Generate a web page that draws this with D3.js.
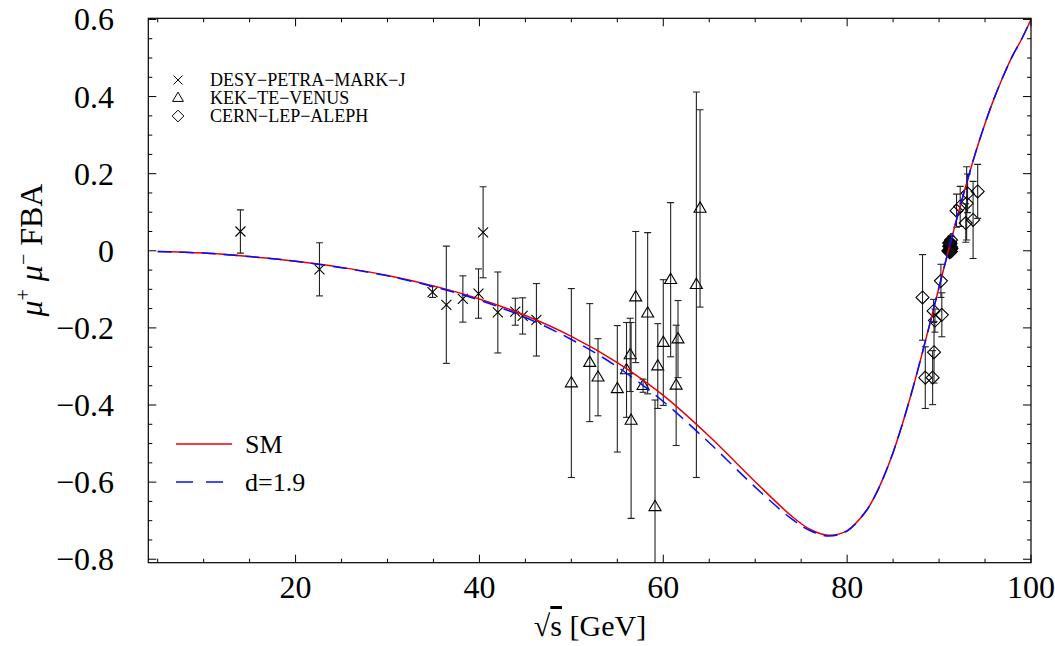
<!DOCTYPE html>
<html>
<head>
<meta charset="utf-8">
<script src="https://cdn.jsdelivr.net/npm/d3@7"></script>
<style>
  body { margin: 0; background: #fff; }
  svg { display: block; }
  text { font-family: "Liberation Serif", "Times New Roman", serif; fill: #000; }
</style>
</head>
<body>
<svg id="chart" width="1055" height="646"></svg>
<script>
// theory curves, sqrt(s) in GeV
var sqrtS = [5, 10, 15, 20, 25, 30, 35, 40, 45, 50, 55, 60, 65, 70, 74, 76, 78, 80, 82, 83, 84, 85, 86, 87, 88, 89, 90, 91, 92, 93, 94, 95, 96, 97, 98, 99, 100];
var smFBA = [-0.002, -0.006, -0.015, -0.027, -0.043, -0.064, -0.091, -0.125, -0.168, -0.222, -0.290, -0.375, -0.481, -0.599, -0.689, -0.723, -0.738, -0.726, -0.677, -0.637, -0.585, -0.523, -0.450, -0.369, -0.281, -0.189, -0.094, -0.001, 0.090, 0.176, 0.257, 0.330, 0.396, 0.454, 0.506, 0.550, 0.600];
var d19FBA = [-0.002, -0.006, -0.015, -0.027, -0.044, -0.065, -0.093, -0.128, -0.173, -0.230, -0.301, -0.391, -0.498, -0.613, -0.696, -0.726, -0.740, -0.727, -0.677, -0.637, -0.585, -0.523, -0.450, -0.369, -0.281, -0.189, -0.094, -0.001, 0.090, 0.176, 0.257, 0.330, 0.396, 0.454, 0.506, 0.550, 0.600];

// DESY-PETRA-MARK-J
var markjX = [14.0, 22.6, 34.9, 36.4, 38.2, 39.9, 40.4, 42.0, 43.9, 44.7, 46.2];
var markjY = [0.050, -0.048, -0.107, -0.140, -0.125, -0.111, 0.048, -0.160, -0.158, -0.169, -0.179];
var markjErr = [0.056, 0.069, 0.014, 0.152, 0.060, 0.064, 0.118, 0.105, 0.035, 0.047, 0.094];

// KEK-TE-VENUS
var venusX = [50.0, 52.0, 52.9, 55.0, 56.0, 56.4, 56.5, 57.0, 57.8, 58.3, 59.1, 59.4, 60.0, 60.8, 61.4, 61.6, 63.6, 64.0];
var venusY = [-0.343, -0.290, -0.328, -0.358, -0.309, -0.270, -0.440, -0.120, -0.350, -0.162, -0.664, -0.299, -0.238, -0.075, -0.349, -0.229, -0.088, 0.110];
var venusErr = [0.245, 0.153, 0.100, 0.164, 0.123, 0.095, 0.254, 0.170, 0.017, 0.209, 0.277, 0.110, 0.163, 0.200, 0.156, 0.100, 0.500, 0.256];

// CERN-LEP-ALEPH
var alephX = [88.2, 88.5, 89.3, 89.45, 89.4, 89.55, 90.3, 90.2, 91.3, 91.9, 92.3, 93.0, 93.1, 92.9, 93.7, 94.2];
var alephY = [-0.121, -0.329, -0.329, -0.263, -0.156, -0.181, -0.166, -0.078, 0.028, 0.104, 0.115, 0.123, 0.149, 0.072, 0.080, 0.154];
var alephErr = [0.111, 0.080, 0.070, 0.080, 0.030, 0.030, 0.057, 0.043, 0.010, 0.043, 0.052, 0.095, 0.050, 0.050, 0.100, 0.070];
// the dense cluster on the Z peak
var peakX = [91.0, 91.1, 91.15, 91.2, 91.25, 91.3, 91.35, 91.2, 91.1, 91.3];
var peakY = [0.000, 0.012, -0.004, 0.004, 0.018, 0.010, 0.006, 0.022, 0.020, -0.002];

var xTicks = [20, 40, 60, 80, 100];
var yTicks = [-0.8, -0.6, -0.4, -0.2, 0, 0.2, 0.4, 0.6];
var legendNames = ["DESY\u2212PETRA\u2212MARK\u2212J", "KEK\u2212TE\u2212VENUS", "CERN\u2212LEP\u2212ALEPH"];

var padL = 148.3, padR = 1031, padT = 18.3, padB = 562.7;
var svg = d3.select("#chart");

var x = d3.scaleLinear().domain([3.98, 100]).range([padL, padR]);
var y = d3.scaleLinear().domain([-0.809, 0.603]).range([padB, padT]);

svg.append("clipPath").attr("id", "plotclip")
    .append("rect").attr("x", padL).attr("y", padT).attr("width", padR - padL).attr("height", padB - padT);

var plot = svg.append("g").attr("clip-path", "url(#plotclip)");

function markerPath(kind){
    if(kind == "cross") return "M-5,-5L5,5M-5,5L5,-5";
    if(kind == "tri") return "M0,-6.5L6,3.8L-6,3.8Z";
    return "M0,-6.5L6.5,0L0,6.5L-6.5,0Z";
}

function drawSet(xs, ys, errs, kind, fill){
    for(var i = 0; i < xs.length; i++){
        var cx = x(xs[i]);
        if(errs){
            var y1 = y(ys[i] + errs[i]), y2 = y(ys[i] - errs[i]);
            plot.append("line").attr("x1", cx).attr("x2", cx).attr("y1", y1).attr("y2", y2)
                .attr("stroke", "#222").attr("stroke-width", 1.1);
            plot.append("line").attr("x1", cx - 3.5).attr("x2", cx + 3.5).attr("y1", y1).attr("y2", y1)
                .attr("stroke", "#222").attr("stroke-width", 1.1);
            plot.append("line").attr("x1", cx - 3.5).attr("x2", cx + 3.5).attr("y1", y2).attr("y2", y2)
                .attr("stroke", "#222").attr("stroke-width", 1.1);
        }
        plot.append("path").attr("d", markerPath(kind))
            .attr("transform", "translate(" + cx + "," + y(ys[i]) + ")")
            .attr("fill", fill).attr("stroke", "#000").attr("stroke-width", 1.1);
    }
}

drawSet(markjX, markjY, markjErr, "cross", "none");
drawSet(venusX, venusY, venusErr, "tri", "none");
drawSet(alephX, alephY, alephErr, "dia", "none");
drawSet(peakX, peakY, null, "dia", "#111");

// curves
var smLine = d3.line().x(function(d, i){ return x(sqrtS[i]); }).y(function(d){ return y(d); })
    .curve(d3.curveCatmullRom.alpha(0.5));

plot.append("path").attr("d", smLine(smFBA))
    .attr("fill", "none").attr("stroke", "#e8000b").attr("stroke-width", 1.5);
plot.append("path").attr("d", smLine(d19FBA))
    .attr("fill", "none").attr("stroke", "#0010ff").attr("stroke-width", 1.5)
    .attr("stroke-dasharray", "14,8");

// frame
svg.append("rect").attr("x", padL).attr("y", padT).attr("width", padR - padL).attr("height", padB - padT)
    .attr("fill", "none").attr("stroke", "#000").attr("stroke-width", 1.2);

// ticks on all four sides
var xMinor = d3.range(5, 100.1, 5);
xMinor.forEach(function(v){
    var len = (v % 20 == 0) ? 8 : 4;
    svg.append("line").attr("x1", x(v)).attr("x2", x(v)).attr("y1", padB).attr("y2", padB - len)
        .attr("stroke", "#000").attr("stroke-width", 1);
    svg.append("line").attr("x1", x(v)).attr("x2", x(v)).attr("y1", padT).attr("y2", padT + len)
        .attr("stroke", "#000").attr("stroke-width", 1);
});
var yMinor = d3.range(-16, 13).map(function(k){ return k * 0.05; });
yMinor.forEach(function(v, k){
    var len = ((k) % 4 == 0) ? 8 : 4;
    svg.append("line").attr("x1", padL).attr("x2", padL + len).attr("y1", y(v)).attr("y2", y(v))
        .attr("stroke", "#000").attr("stroke-width", 1);
    svg.append("line").attr("x1", padR).attr("x2", padR - len).attr("y1", y(v)).attr("y2", y(v))
        .attr("stroke", "#000").attr("stroke-width", 1);
});

// tick labels
xTicks.forEach(function(v){
    svg.append("text").attr("x", x(v)).attr("y", 598).attr("text-anchor", "middle")
        .style("font-size", "32px").text(v);
});
yTicks.forEach(function(v){
    var label = v == 0 ? "0" : (v < 0 ? "\u2212" + d3.format(".1f")(-v) : d3.format(".1f")(v));
    svg.append("text").attr("x", 114).attr("y", y(v) + 11).attr("text-anchor", "end")
        .style("font-size", "32px").text(label);
});

// axis titles
var yt = svg.append("text").attr("transform", "translate(42,250) rotate(-90)")
    .attr("text-anchor", "middle").style("font-size", "32px");
yt.append("tspan").style("font-style", "italic").text("\u03bc");
yt.append("tspan").attr("dy", -12).style("font-size", "20px").text("+");
yt.append("tspan").attr("dy", 12).text(" ");
yt.append("tspan").style("font-style", "italic").text("\u03bc");
yt.append("tspan").attr("dy", -12).style("font-size", "20px").text("\u2212");
yt.append("tspan").attr("dy", 12).text(" FBA");

var xt = svg.append("text").attr("x", 590).attr("y", 636).attr("text-anchor", "middle").style("font-size", "30px");
xt.append("tspan").text("\u221a");
xt.append("tspan").style("text-decoration", "overline").text("s");
xt.append("tspan").text(" [GeV]");

// marker legend
var legendKinds = ["cross", "tri", "dia"];
for(var i = 0; i < 3; i++){
    var ly = 80 + i * 18;
    svg.append("path").attr("d", markerPath(legendKinds[i]))
        .attr("transform", "translate(178," + ly + ") scale(0.9)")
        .attr("fill", "none").attr("stroke", "#000").attr("stroke-width", 1.1);
    svg.append("text").attr("x", 210).attr("y", ly + 6).style("font-size", "18px").text(legendNames[i]);
}

// curve legend
svg.append("line").attr("x1", 176).attr("x2", 232).attr("y1", 444).attr("y2", 444)
    .attr("stroke", "#e8000b").attr("stroke-width", 1.5);
svg.append("text").attr("x", 245).attr("y", 453).style("font-size", "26px").text("SM");
svg.append("line").attr("x1", 176).attr("x2", 232).attr("y1", 482).attr("y2", 482)
    .attr("stroke", "#0010ff").attr("stroke-width", 1.5).attr("stroke-dasharray", "17,13");
svg.append("text").attr("x", 245).attr("y", 491).style("font-size", "26px").text("d=1.9");
</script>
</body>
</html>
